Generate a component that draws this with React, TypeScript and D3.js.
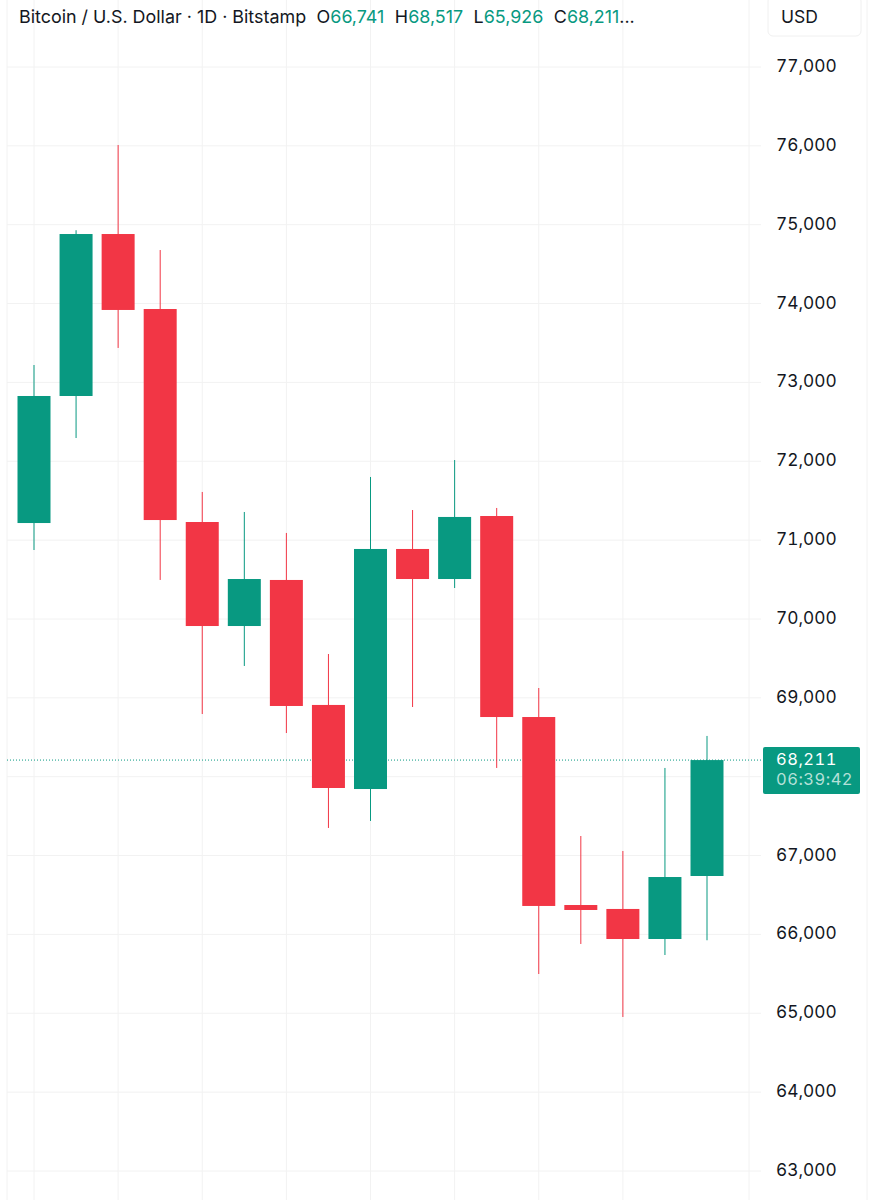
import { useEffect, useRef } from 'react';
import * as d3 from 'd3';

const WIDTH = 883;
const HEIGHT = 1200;

// daily candles
const days = d3.range(17);
const opens = [71217, 72828, 74882, 73931, 71230, 69911, 70495, 68910, 67844, 70888, 70507, 71306, 68757, 66373, 66323, 65942, 66741];
const closes = [72828, 74882, 73919, 71255, 69911, 70507, 68897, 67857, 70888, 70507, 71294, 68757, 66361, 66310, 65942, 66728, 68211];
const highs = [73221, 74930, 76011, 74679, 71611, 71357, 71091, 69556, 71801, 71382, 72016, 71408, 69125, 67248, 67058, 68111, 68517];
const lows = [70875, 72295, 73437, 70495, 68795, 69404, 68554, 67350, 67439, 68884, 70393, 68111, 65498, 65879, 64953, 65739, 65926];

const priceTicks = d3.range(63000, 78000, 1000);
// 68,000 sits behind the last price tag, so it gets a grid line but no label
const priceLabels = priceTicks.filter(d => d !== 68000);
const timeGridDays = [0, 2, 4, 6, 8, 10, 12, 14];
const lastPrice = 68211;
const countdown = '06:39:42';

const titleText = 'Bitcoin / U.S. Dollar · 1D · Bitstamp';
const legendItems = [
  ['O', '66,741'],
  ['H', '68,517'],
  ['L', '65,926'],
  ['C', '68,211'],
];

const UP = '#089981';
const DOWN = '#F23645';
const GRID = '#F2F2F2';
const TEXT = '#131722';
const FONT = 'Inter, sans-serif';

const App = () => {
  const svgRef = useRef<SVGSVGElement>(null);

  useEffect(() => {
    if (!svgRef.current) return;
    const svg = d3.select(svgRef.current);
    svg.selectAll('*').remove();

    const x = d3.scaleLinear().domain([0, 16]).range([34, 707]);
    const y = d3.scaleLinear().domain([63000, 77000]).range([1171, 67]);
    const fmt = d3.format(',');
    const bodyWidth = 33;

    // grid
    svg.selectAll('.hgrid')
      .data(priceTicks)
      .enter()
      .append('line')
      .attr('x1', 7)
      .attr('x2', 761)
      .attr('y1', d => y(d))
      .attr('y2', d => y(d))
      .attr('stroke', GRID);

    svg.selectAll('.vgrid')
      .data(timeGridDays)
      .enter()
      .append('line')
      .attr('x1', d => x(d))
      .attr('x2', d => x(d))
      .attr('y1', 0)
      .attr('y2', HEIGHT)
      .attr('stroke', GRID);

    // pane edges
    [7, 749, 867].forEach(px => {
      svg.append('line')
        .attr('x1', px)
        .attr('x2', px)
        .attr('y1', 0)
        .attr('y2', HEIGHT)
        .attr('stroke', GRID);
    });

    // last price line
    svg.append('line')
      .attr('x1', 7)
      .attr('x2', 761)
      .attr('y1', y(lastPrice))
      .attr('y2', y(lastPrice))
      .attr('stroke', UP)
      .attr('stroke-dasharray', '1 2');

    // candles
    const color = (i: number) => (closes[i] >= opens[i] ? UP : DOWN);

    svg.selectAll('.wick')
      .data(days)
      .enter()
      .append('line')
      .attr('x1', i => x(i))
      .attr('x2', i => x(i))
      .attr('y1', i => y(highs[i]))
      .attr('y2', i => y(lows[i]))
      .attr('stroke', i => color(i))
      .attr('stroke-width', 1);

    svg.selectAll('.body')
      .data(days)
      .enter()
      .append('rect')
      .attr('x', i => x(i) - bodyWidth / 2)
      .attr('width', bodyWidth)
      .attr('y', i => y(Math.max(opens[i], closes[i])))
      .attr('height', i => Math.abs(y(opens[i]) - y(closes[i])))
      .attr('fill', i => color(i));

    // price axis labels
    svg.selectAll('.tick')
      .data(priceLabels)
      .enter()
      .append('text')
      .attr('x', 776)
      .attr('y', d => y(d) - 1)
      .attr('dy', '0.35em')
      .style('font-family', FONT)
      .style('font-size', '17.3px')
      .style('font-variant-numeric', 'tabular-nums')
      .style('fill', TEXT)
      .text(d => fmt(d));

    // last price tag
    svg.append('rect')
      .attr('x', 763)
      .attr('y', y(lastPrice) - 13)
      .attr('width', 97)
      .attr('height', 47)
      .attr('rx', 2)
      .attr('fill', UP);
    svg.append('text')
      .attr('x', 776)
      .attr('y', y(lastPrice) + 4.5)
      .style('font-family', FONT)
      .style('font-size', '16.5px')
      .style('font-variant-numeric', 'tabular-nums')
      .style('letter-spacing', '0.5px')
      .style('fill', '#FFFFFF')
      .text(fmt(lastPrice));
    svg.append('text')
      .attr('x', 776)
      .attr('y', y(lastPrice) + 25)
      .style('font-family', FONT)
      .style('font-size', '16.5px')
      .style('font-variant-numeric', 'tabular-nums')
      .style('letter-spacing', '0.5px')
      .style('fill', '#B5E0D8')
      .text(countdown);

    // header
    const header = svg.append('text')
      .attr('x', 19)
      .attr('y', 23)
      .style('font-family', FONT)
      .style('font-size', '17.9px')
      .style('fill', TEXT);
    header.append('tspan').text(titleText);
    legendItems.forEach(([key, val]) => {
      header.append('tspan').attr('dx', 10.5).text(key);
      header.append('tspan').style('fill', UP).text(val);
    });
    header.append('tspan').text('...');

    // currency button
    svg.append('rect')
      .attr('x', 768)
      .attr('y', -4)
      .attr('width', 93)
      .attr('height', 40)
      .attr('rx', 5)
      .attr('fill', '#FFFFFF')
      .attr('stroke', '#F0F0F0');
    svg.append('text')
      .attr('x', 781)
      .attr('y', 23)
      .style('font-family', FONT)
      .style('font-size', '17.5px')
      .style('fill', TEXT)
      .text('USD');
  }, []);

  return (
    <svg
      ref={svgRef}
      width={WIDTH}
      height={HEIGHT}
      style={{ position: 'absolute', left: 0, top: 0, background: '#FFFFFF' }}
    />
  );
};

export default App;
